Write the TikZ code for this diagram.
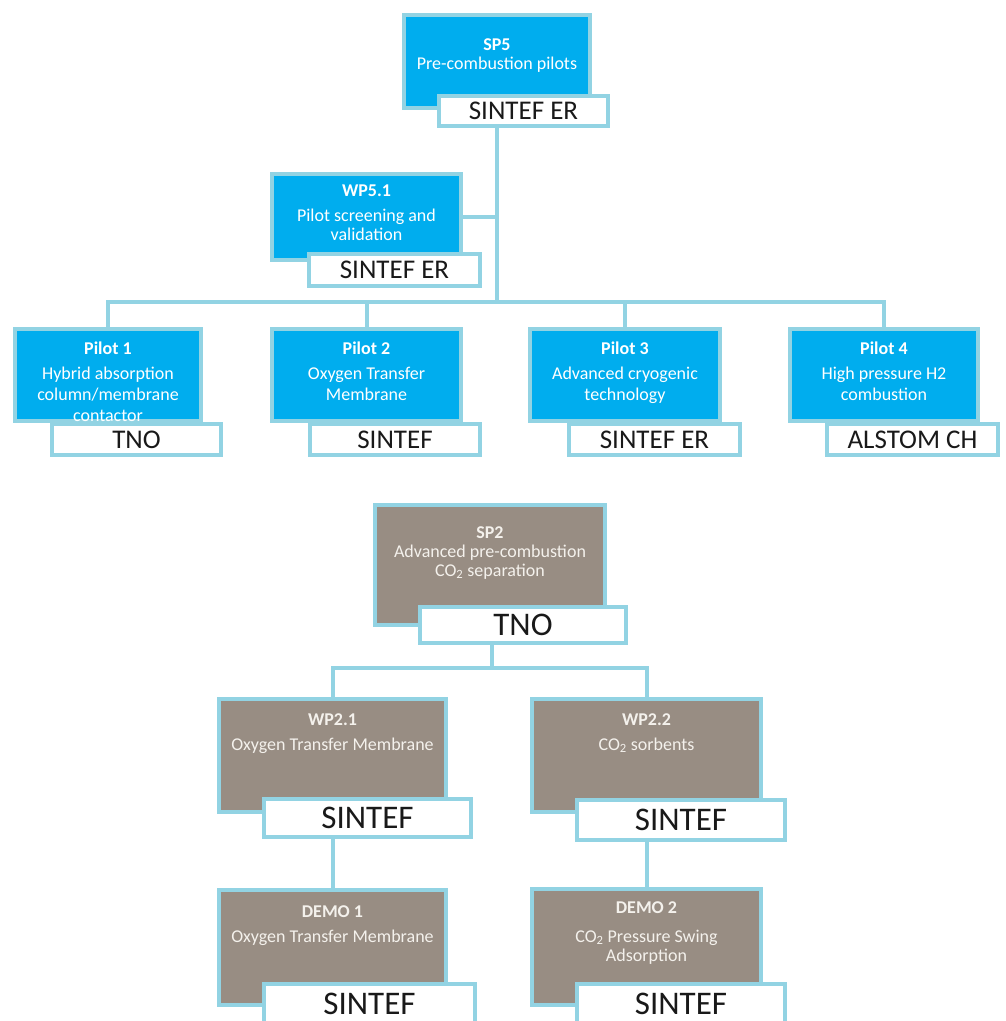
\documentclass[tikz,border=0pt]{standalone}
\usepackage{fontspec}
\setmainfont{Carlito}
\definecolor{edge}{HTML}{92D3E3}
\definecolor{sky}{HTML}{00ADEE}
\definecolor{taupe}{HTML}{988D83}
\definecolor{paletext}{HTML}{F4F1EC}
\pgfdeclarelayer{bg}
\pgfsetlayers{bg,main}
\begin{document}
\begin{tikzpicture}[x=1pt,y=-1pt,
  bluebox/.style={rectangle,draw=edge,line width=4.5pt,fill=sky,inner sep=0pt},
  brownbox/.style={rectangle,draw=edge,line width=4.5pt,fill=taupe,inner sep=0pt},
  tagbox/.style={rectangle,draw=edge,line width=4pt,fill=white,inner sep=0pt,text=black!90},
  smalltag/.style={tagbox,font=\fontsize{27}{30}\selectfont},
  bigtag/.style={tagbox,font=\fontsize{33}{36}\selectfont},
  btext/.style={text=white,align=center,anchor=north,inner sep=0pt,font=\fontsize{18}{19}\selectfont},
  ptext/.style={btext,text=paletext},
  conn/.style={draw=edge,line width=4pt,line join=miter}]
\useasboundingbox (0,0) rectangle (1005,1021);

% ---------- SP5 tree ----------
\node[bluebox,minimum width=186pt,minimum height=93pt] (sp5) at (497,61.5) {};
\node[btext] (sp5t) at (497,38) {\textbf{SP5}\\Pre-combustion pilots};
\node[smalltag,minimum width=169pt,minimum height=30pt] (sp5tag) at (523.5,111) {SINTEF ER};

\node[bluebox,minimum width=189pt,minimum height=86pt] (wp51) at (366.5,217) {};
\node[btext] (wp51t) at (366.5,185) {\textbf{WP5.1}\\[6pt]Pilot screening and\\validation};
\node[smalltag,minimum width=171pt,minimum height=32pt] (wp51tag) at (394.5,270) {SINTEF ER};

\node[bluebox,minimum width=186pt,minimum height=92pt] (p1) at (108,375) {};
\node[btext] (p1t) at (108,342) {\textbf{Pilot 1}\\[6pt]Hybrid absorption\\[2pt]column/membrane\\[2pt]contactor};
\node[smalltag,minimum width=169pt,minimum height=31pt] (p1tag) at (136.5,439.5) {TNO};

\node[bluebox,minimum width=189pt,minimum height=92pt] (p2) at (366.5,375) {};
\node[btext] (p2t) at (366.5,342) {\textbf{Pilot 2}\\[6pt]Oxygen Transfer\\[2pt]Membrane};
\node[smalltag,minimum width=170pt,minimum height=31pt] (p2tag) at (395,439.5) {SINTEF};

\node[bluebox,minimum width=190pt,minimum height=92pt] (p3) at (625,375) {};
\node[btext] (p3t) at (625,342) {\textbf{Pilot 3}\\[6pt]Advanced cryogenic\\[2pt]technology};
\node[smalltag,minimum width=171pt,minimum height=31pt] (p3tag) at (654.5,439.5) {SINTEF ER};

\node[bluebox,minimum width=188pt,minimum height=92pt] (p4) at (884,375) {};
\node[btext] (p4t) at (884,342) {\textbf{Pilot 4}\\[6pt]High pressure H2\\[2pt]combustion};
\node[smalltag,minimum width=171pt,minimum height=31pt] (p4tag) at (912.5,439.5) {ALSTOM CH};

\coordinate (bus1) at (497,302);
\begin{pgfonlayer}{bg}
  \draw[conn] (sp5tag.south -| sp5.center) -- (bus1);
  \draw[conn] (wp51.east) -- (wp51.east -| bus1);
  \draw[conn] (p1.north) -- (p1.north |- bus1) -- (p4.north |- bus1) -- (p4.north);
  \draw[conn] (p2.north) -- (p2.north |- bus1);
  \draw[conn] (p3.north) -- (p3.north |- bus1);
\end{pgfonlayer}

% ---------- SP2 tree ----------
\node[brownbox,minimum width=230pt,minimum height=120pt] (sp2) at (490,565) {};
\node[ptext] (sp2t) at (490,526) {\textbf{SP2}\\Advanced pre-combustion\\CO\textsubscript{2} separation};
\node[bigtag,minimum width=206pt,minimum height=36pt] (sp2tag) at (523,625) {TNO};

\node[brownbox,minimum width=227pt,minimum height=113pt] (wp21) at (332.5,755.5) {};
\node[ptext] (wp21t) at (332.5,713) {\textbf{WP2.1}\\[6pt]Oxygen Transfer Membrane};
\node[bigtag,minimum width=207pt,minimum height=38pt] (wp21tag) at (367.5,818) {SINTEF};

\node[brownbox,minimum width=229pt,minimum height=113pt] (wp22) at (646.5,755.5) {};
\node[ptext] (wp22t) at (646.5,713) {\textbf{WP2.2}\\[6pt]CO\textsubscript{2} sorbents};
\node[bigtag,minimum width=208pt,minimum height=40pt] (wp22tag) at (681,820) {SINTEF};

\node[brownbox,minimum width=227pt,minimum height=115pt] (demo1) at (332.5,947.5) {};
\node[ptext] (demo1t) at (332.5,905) {\textbf{DEMO 1}\\[6pt]Oxygen Transfer Membrane};
\node[bigtag,minimum width=211pt,minimum height=40pt] (demo1tag) at (369.5,1004) {SINTEF};

\node[brownbox,minimum width=229pt,minimum height=116pt] (demo2) at (646.5,947) {};
\node[ptext] (demo2t) at (646.5,901) {\textbf{DEMO 2}\\[10pt]CO\textsubscript{2} Pressure Swing\\Adsorption};
\node[bigtag,minimum width=208pt,minimum height=40pt] (demo2tag) at (681,1004) {SINTEF};

\coordinate (bus2) at (492,668);
\begin{pgfonlayer}{bg}
  \draw[conn] (sp2tag.south -| bus2) -- (bus2);
  \draw[conn] (wp21.north) -- (wp21.north |- bus2) -- (wp22.north |- bus2) -- (wp22.north);
  \draw[conn] (wp21tag.south -| wp21.north) -- (demo1.north);
  \draw[conn] (wp22tag.south -| wp22.north) -- (demo2.north);
\end{pgfonlayer}
\end{tikzpicture}
\end{document}
